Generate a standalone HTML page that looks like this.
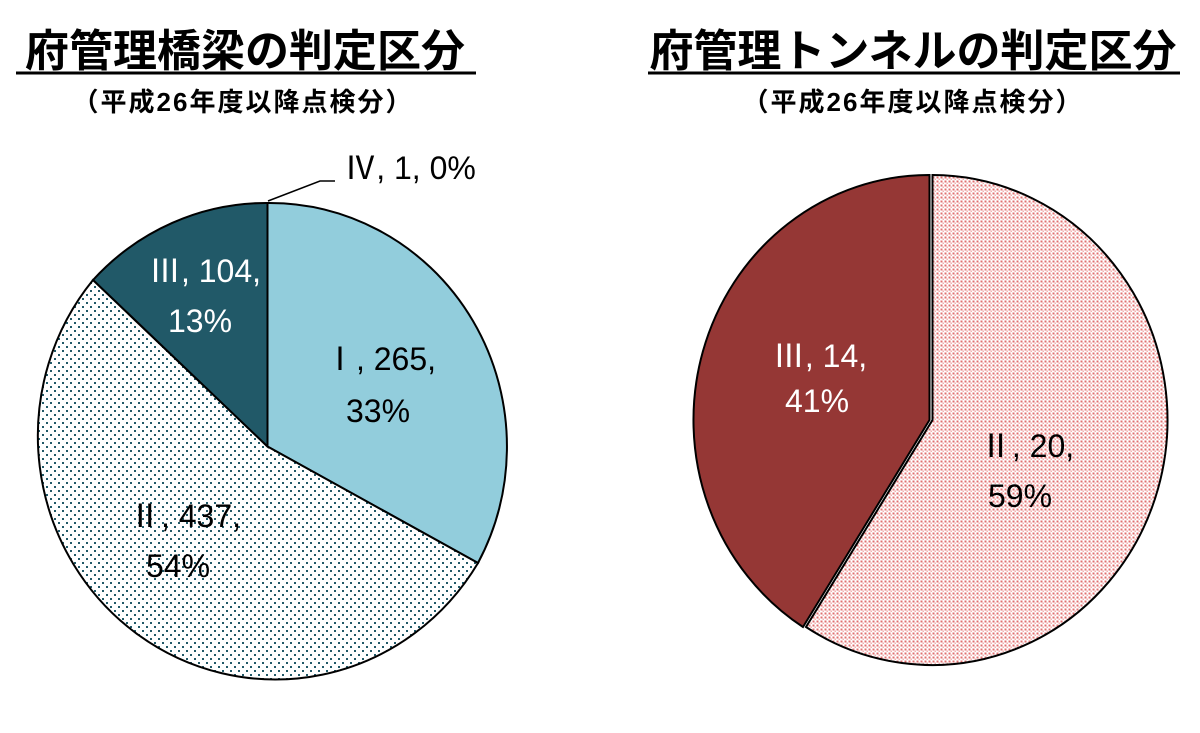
<!DOCTYPE html>
<html><head><meta charset="utf-8"><style>
html,body{margin:0;padding:0;background:#fff;}
svg{display:block;}
.t{font-family:"Liberation Sans","Noto Sans CJK JP",sans-serif;font-weight:bold;}
.l{font-family:"Liberation Sans","Noto Sans CJK JP",sans-serif;font-size:32px;}
.r{font-family:"Noto Sans CJK JP",sans-serif;}
</style></head><body>
<svg width="1200" height="733" viewBox="0 0 1200 733" xmlns="http://www.w3.org/2000/svg">
<defs>
<pattern id="p1" width="8" height="8" patternUnits="userSpaceOnUse">
<rect width="8" height="8" fill="#fff"/><rect x="2" y="2" width="2" height="2" fill="#215968"/><rect x="6" y="6" width="2" height="2" fill="#215968"/>
</pattern>
<pattern id="p2" width="4" height="4" patternUnits="userSpaceOnUse">
<rect width="4" height="4" fill="#fff"/><rect x="0.5" y="0.5" width="2" height="2" fill="#e07070"/><rect x="2.5" y="2.5" width="1.5" height="1.5" fill="#f0b0b0"/>
</pattern>
</defs>
<text class="t" x="245" y="66" font-size="44" text-anchor="middle">府管理橋梁の判定区分</text>
<line x1="16" y1="73" x2="476" y2="73" stroke="#000" stroke-width="3"/>
<text class="t" x="243" y="111" font-size="26" text-anchor="middle" letter-spacing="2">（平成26年度以降点検分）</text>
<text class="t" x="913" y="66" font-size="44" text-anchor="middle">府管理トンネルの判定区分</text>
<line x1="648" y1="73" x2="1180" y2="73" stroke="#000" stroke-width="3"/>
<text class="t" x="913" y="111" font-size="26" text-anchor="middle" letter-spacing="2">（平成26年度以降点検分）</text>

<!-- left pie -->
<g stroke="#000" stroke-width="2">
<path d="M267.5,446.5 L267.5,203 A237.5,243.5 0 0 1 478,563 Z" fill="#92CDDC"/>
<path d="M267.5,446.5 L478,563 A237.5,243.5 0 1 1 93,280 Z" fill="url(#p1)"/>
<path d="M267.5,446.5 L93,280 A237.5,243.5 0 0 1 267.5,203 Z" fill="#215968"/>
</g>
<polyline points="268,201 320,181 335,181" fill="none" stroke="#000" stroke-width="1.5"/>
<text class="l" x="410" y="179" text-anchor="middle"><tspan class="r">Ⅳ</tspan>, 1, 0%</text>
<text class="l" x="380" y="370" text-anchor="middle"><tspan class="r">Ⅰ</tspan>, 265,</text>
<text class="l" x="378" y="422" text-anchor="middle">33%</text>
<text class="l" x="205" y="282" text-anchor="middle" fill="#fff"><tspan class="r">Ⅲ</tspan>, 104,</text>
<text class="l" x="200" y="332" text-anchor="middle" fill="#fff">13%</text>
<text class="l" x="185" y="527" text-anchor="middle"><tspan class="r">Ⅱ</tspan>, 437,</text>
<text class="l" x="178" y="577" text-anchor="middle">54%</text>

<!-- right pie -->
<g stroke="#000" stroke-width="2">
<path d="M932.5,420 L932.5,175 A235.5,245 0 1 1 806,627 Z" fill="url(#p2)"/>
<path d="M929.5,420 L929.5,175 A235.5,245 0 0 0 803,627 Z" fill="#953735"/>
</g>
<text class="l" x="820" y="367" text-anchor="middle" fill="#fff"><tspan class="r">Ⅲ</tspan>, 14,</text>
<text class="l" x="817" y="412" text-anchor="middle" fill="#fff">41%</text>
<text class="l" x="1027" y="457" text-anchor="middle"><tspan class="r">Ⅱ</tspan>, 20,</text>
<text class="l" x="1020" y="507" text-anchor="middle">59%</text>
</svg>
</body></html>
